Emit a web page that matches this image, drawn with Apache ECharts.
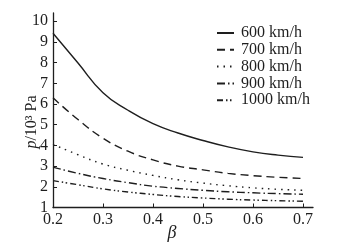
<!DOCTYPE html>
<html><head><meta charset="utf-8">
<script src="https://cdn.jsdelivr.net/npm/echarts@6/dist/echarts.min.js"></script>
<style>html,body{margin:0;padding:0;background:#fff}#c{width:344px;height:252px}</style>
</head><body><div id="c"></div>
<script>
var beta = [0.2,0.25,0.3,0.35,0.4,0.45,0.5,0.55,0.6,0.65,0.7];
var seriesNames = ['600 km/h','700 km/h','800 km/h','900 km/h','1000 km/h'];
var p600  = [9.42,7.98,6.55,5.7,5.05,4.6,4.24,3.93,3.69,3.53,3.42];
var p700  = [6.3,5.25,4.35,3.72,3.3,3.0,2.82,2.65,2.54,2.46,2.4];
var p800  = [4.05,3.55,3.1,2.8,2.55,2.34,2.18,2.05,1.95,1.88,1.83];
var p900  = [2.95,2.65,2.4,2.2,2.03,1.92,1.83,1.76,1.71,1.67,1.64];
var p1000 = [2.3,2.1,1.9,1.75,1.63,1.53,1.46,1.4,1.36,1.33,1.3];
var xTicks = [0.2,0.3,0.4,0.5,0.6,0.7];
var yTicks = [1,2,3,4,5,6,7,8,9,10];

var allVals = [p600,p700,p800,p900,p1000];
var dashes = ['solid',[8,5],[1.5,5],[8,3,1.5,3],[6,3,1.5,2.5,1.5,3]];
var ink = '#1e1e1e';
var font = 'Liberation Serif';

var series = allVals.map(function(v,i){
  return {
    name: seriesNames[i], type:'line', smooth:0.5, symbol:'none',
    data: beta.map(function(b,j){return [b,v[j]];}),
    lineStyle:{color:ink,width:1.4,type:dashes[i]},
    itemStyle:{color:ink}
  };
});

var chart = echarts.init(document.getElementById('c'),null,{renderer:'canvas'});
chart.setOption({
  backgroundColor:'#fff',
  animation:false,
  grid:{left:53,right:31,top:13,bottom:44.5},
  legend:{
    orient:'vertical', left:211, top:20, itemWidth:17, itemHeight:10, itemGap:0.8,
    data:seriesNames,
    itemStyle:{opacity:0},
    textStyle:{fontFamily:font,fontSize:16,color:ink,lineHeight:16,padding:[0,0,0,2]}
  },
  xAxis:{
    type:'value', min:0.2, max:0.72, interval:0.1,
    axisLine:{lineStyle:{color:ink,width:1.3}},
    axisTick:{inside:true,length:4,lineStyle:{color:ink},customValues:xTicks},
    axisLabel:{fontFamily:font,fontSize:16,color:ink,margin:4,customValues:xTicks,
      formatter:function(v){return v.toFixed(1);}},
    splitLine:{show:false}
  },
  yAxis:{
    type:'value', min:1, max:10.4, interval:1,
    axisLine:{show:true,lineStyle:{color:ink,width:1.3}},
    axisTick:{show:true,inside:true,length:4,lineStyle:{color:ink},customValues:yTicks},
    axisLabel:{fontFamily:font,fontSize:16,color:ink,margin:5,customValues:yTicks},
    splitLine:{show:false}
  },
  graphic:[
    {type:'text',x:32,y:122,rotation:Math.PI/2,
     style:{text:'{i|p}/10³ Pa',textAlign:'center',textVerticalAlign:'middle',
       fontFamily:font,fontSize:16,fill:ink,
       rich:{i:{fontFamily:font,fontSize:16,fontStyle:'italic',fill:ink}}}},
    {type:'text',x:172,y:233,
     style:{text:'β',textAlign:'center',textVerticalAlign:'middle',fontFamily:font,fontSize:18,fontStyle:'italic',fill:ink}}
  ],
  series:series
});
</script></body></html>
